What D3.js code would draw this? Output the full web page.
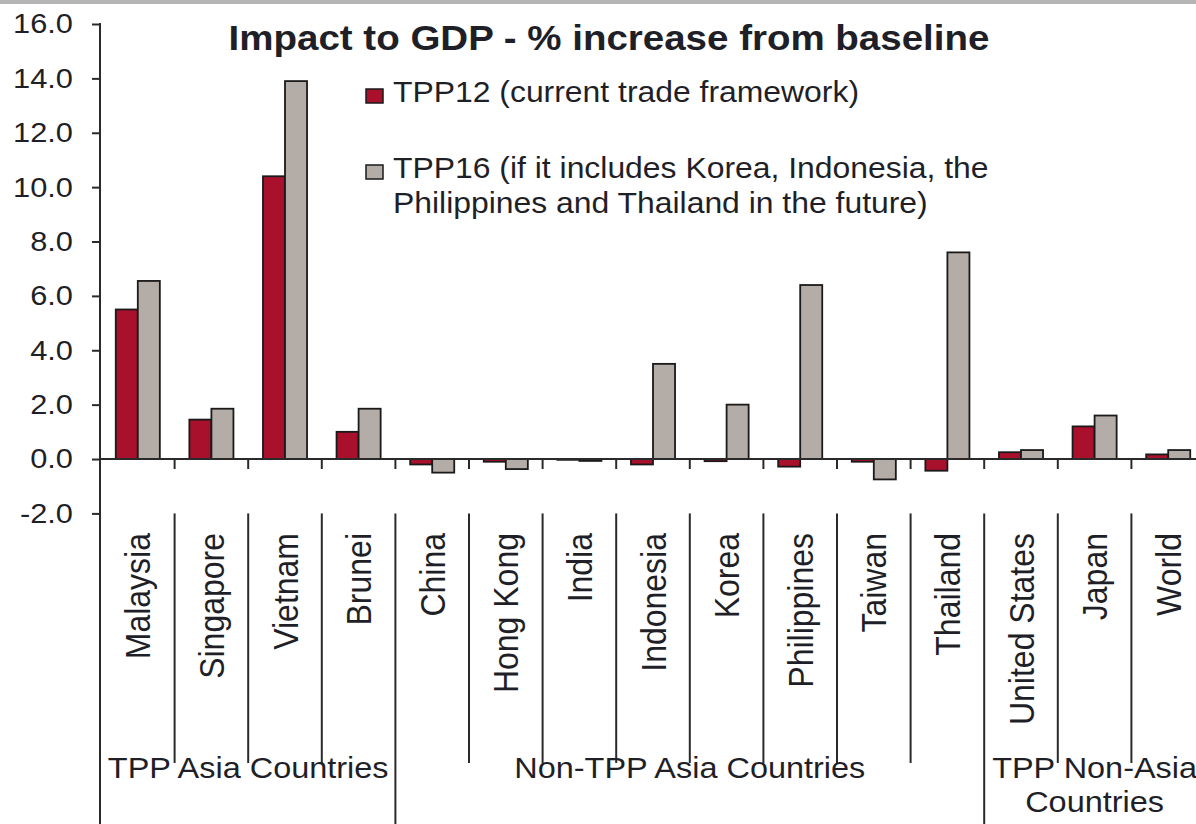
<!DOCTYPE html>
<html>
<head>
<meta charset="utf-8">
<script src="https://cdn.jsdelivr.net/npm/d3@7"></script>
<style>
  body { margin: 0; background: #fff; }
  svg { display: block; }
  text { font-family: Arial, "Liberation Sans", sans-serif; fill: #1f1f28; }
</style>
</head>
<body>
<svg id="chart" width="1196" height="824"></svg>
<script>
// Countries along the category axis
const countries = ["Malaysia", "Singapore", "Vietnam", "Brunei", "China", "Hong Kong", "India",
  "Indonesia", "Korea", "Philippines", "Taiwan", "Thailand", "United States", "Japan", "World"];

// GDP impact, % increase from baseline
const tpp12 = [5.5, 1.45, 10.4, 1.0, -0.2, -0.1, -0.03, -0.2, -0.08, -0.28, -0.1, -0.43, 0.25, 1.2, 0.17];
const tpp16 = [6.55, 1.85, 13.9, 1.85, -0.5, -0.37, -0.07, 3.5, 2.0, 6.4, -0.75, 7.6, 0.33, 1.6, 0.33];

const seriesKeys = ["tpp12", "tpp16"];
const seriesColors = ["#a8102c", "#b4aca6"];
const legendLines = [
  ["TPP12 (current trade framework)"],
  ["TPP16 (if it includes Korea, Indonesia, the", "Philippines and Thailand in the future)"]
];

const yTicks = [-2, 0, 2, 4, 6, 8, 10, 12, 14, 16];

// Country groups below the axis
const groupLabels = [["TPP Asia Countries"], ["Non-TPP Asia Countries"], ["TPP Non-Asia", "Countries"]];
const groupSizes = [4, 8, 3];

const title = "Impact to GDP - % increase from baseline";

const W = 1196, H = 824;
const svg = d3.select("#chart");
const stretch = 1.1; // text is set slightly wide

// thin grey band along the top edge
svg.append("rect").attr("x", 0).attr("y", 0).attr("width", W).attr("height", 4).attr("fill", "#b5b5b5");

const x = d3.scaleBand().domain(countries).range([101, 1205]);
const xs = d3.scaleBand().domain(seriesKeys).range([0, x.bandwidth()]).paddingOuter(0.67);
const y = d3.scaleLinear().domain([-2, 16]).range([513.4, 24]);

const axisColor = "#2a2a2a";

// Bars
const data = countries.map((c, i) => ({ country: c, tpp12: tpp12[i], tpp16: tpp16[i] }));
const g = svg.append("g");
g.selectAll("g.cat").data(data).join("g")
  .attr("class", "cat")
  .attr("transform", d => `translate(${x(d.country)},0)`)
  .selectAll("rect")
  .data(d => seriesKeys.map((k, j) => ({ key: k, value: d[k], color: seriesColors[j] })))
  .join("rect")
  .attr("x", d => xs(d.key))
  .attr("width", xs.bandwidth())
  .attr("y", d => y(Math.max(0, d.value)))
  .attr("height", d => Math.abs(y(d.value) - y(0)))
  .attr("fill", d => d.color)
  .attr("stroke", "#1a1a1a")
  .attr("stroke-width", 1.8);

// Y axis
const yAxis = d3.axisLeft(y)
  .tickValues(yTicks)
  .tickFormat(d => d.toFixed(1))
  .tickSize(8)
  .tickSizeOuter(0);
const ya = svg.append("g").attr("transform", "translate(100,0)").call(yAxis);
ya.select(".domain").remove();
ya.selectAll(".tick line").attr("stroke", axisColor).attr("stroke-width", 2);
ya.selectAll(".tick text")
  .attr("x", 0)
  .attr("transform", `translate(-27,0) scale(${stretch},1)`)
  .attr("font-size", 28)
  .attr("font-family", "Arial, 'Liberation Sans', sans-serif")
  .attr("fill", "#1f1f28");
svg.append("line")
  .attr("x1", 100).attr("x2", 100).attr("y1", y(16) - 1).attr("y2", H)
  .attr("stroke", axisColor).attr("stroke-width", 2);

// Zero line with boundary ticks
svg.append("line")
  .attr("x1", 100).attr("x2", W).attr("y1", y(0)).attr("y2", y(0))
  .attr("stroke", axisColor).attr("stroke-width", 2);

const boundaries = d3.range(1, countries.length).map(i => x(countries[i]));
svg.append("g").selectAll("line").data(boundaries).join("line")
  .attr("x1", d => d).attr("x2", d => d)
  .attr("y1", y(0)).attr("y2", y(0) + 10)
  .attr("stroke", axisColor).attr("stroke-width", 2);

// Category separators; group separators run to the bottom
const groupEnds = d3.cumsum(groupSizes).slice(0, -1);
svg.append("g").selectAll("line").data(d3.range(1, countries.length)).join("line")
  .attr("x1", i => x(countries[i])).attr("x2", i => x(countries[i]))
  .attr("y1", y(-2))
  .attr("y2", i => groupEnds.includes(i) ? H : 763)
  .attr("stroke", axisColor).attr("stroke-width", 2);

// Category labels
svg.append("g").selectAll("text").data(countries).join("text")
  .attr("transform", d => `translate(${x(d) + x.bandwidth() / 2},533) rotate(-90) scale(1,${stretch})`)
  .attr("text-anchor", "end")
  .attr("dy", "0.36em")
  .attr("font-size", 32)
  .text(d => d);

// Group labels
let start = 0;
groupLabels.forEach((lines, gi) => {
  const first = countries[start];
  const last = countries[start + groupSizes[gi] - 1];
  const cx = (x(first) + x(last) + x.bandwidth()) / 2;
  lines.forEach((line, li) => {
    svg.append("text")
      .attr("transform", `translate(${cx},${778 + li * 34}) scale(${stretch},1)`)
      .attr("text-anchor", "middle")
      .attr("font-size", 29.5)
      .text(line);
  });
  start += groupSizes[gi];
});

// Title
svg.append("text")
  .attr("transform", `translate(609,50) scale(${stretch},1)`)
  .attr("text-anchor", "middle")
  .attr("font-size", 35)
  .attr("font-weight", "bold")
  .attr("fill", "#111")
  .text(title);

// Legend
const legendTop = [102, 178];
seriesKeys.forEach((k, i) => {
  svg.append("rect")
    .attr("x", 366).attr("y", legendTop[i] - 13)
    .attr("width", 17).attr("height", 14)
    .attr("fill", seriesColors[i])
    .attr("stroke", "#1a1a1a").attr("stroke-width", 1.5);
  legendLines[i].forEach((line, li) => {
    svg.append("text")
      .attr("transform", `translate(393,${legendTop[i] + li * 35}) scale(${stretch},1)`)
      .attr("font-size", 29)
      .text(line);
  });
});
</script>
</body>
</html>
